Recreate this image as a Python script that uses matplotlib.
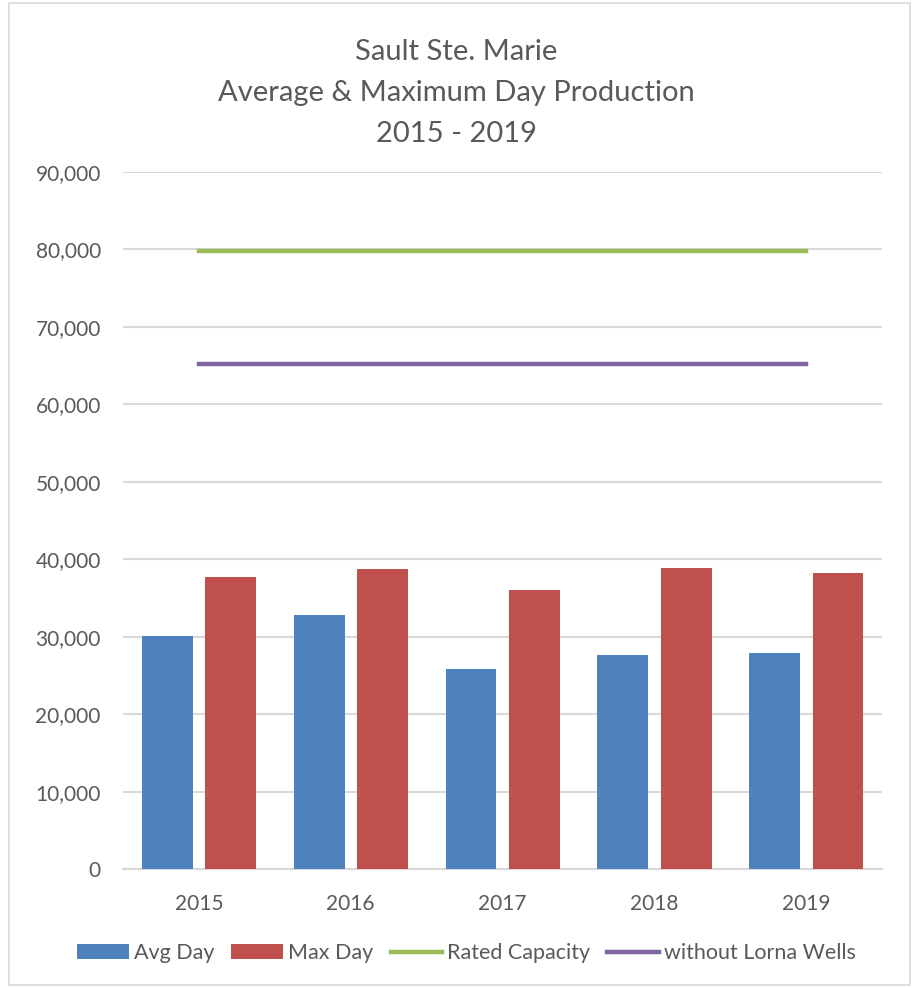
import matplotlib.pyplot as plt
import numpy as np
from matplotlib.patches import Rectangle

plt.rcParams['font.family'] = ['Lato', 'DejaVu Sans']

years = ['2015', '2016', '2017', '2018', '2019']
avg_day = [30100, 32800, 25850, 27650, 27950]
max_day = [37750, 38800, 36000, 38850, 38250]
rated_capacity = [79800, 79800, 79800, 79800, 79800]
without_lorna = [65200, 65200, 65200, 65200, 65200]

grey = '#595959'

fig = plt.figure(figsize=(9.13, 9.88), dpi=100)
ax = fig.add_axes([0.1347, 0.1204, 0.8313, 0.7055])

x = np.arange(len(years))
w = 0.335
b1 = ax.bar(x - 0.207, avg_day, w, color='#4f81bd', label='Avg Day', zorder=3)
b2 = ax.bar(x + 0.21, max_day, w, color='#c0504d', label='Max Day', zorder=3)
l1, = ax.plot(x, rated_capacity, color='#9bbb59', lw=3.2, label='Rated Capacity', zorder=4)
l2, = ax.plot(x, without_lorna, color='#8064a2', lw=3.2, label='without Lorna Wells', zorder=4)

ax.set_xlim(-0.5, 4.5)
ax.set_ylim(0, 90000)
ax.set_yticks(range(0, 90001, 10000))
ax.set_yticklabels([f'{v:,}' for v in range(0, 90001, 10000)])
ax.set_xticks(x)
ax.set_xticklabels(years)
ax.tick_params(axis='both', length=0, labelsize=15, colors=grey)
ax.tick_params(axis='y', pad=16)
ax.tick_params(axis='x', pad=18)
ax.grid(axis='y', color='#d9d9d9', lw=1.5, zorder=0)
for s in ['top', 'right', 'left']:
    ax.spines[s].set_visible(False)
ax.spines['bottom'].set_color('#d9d9d9')
ax.spines['bottom'].set_linewidth(1.5)

fig.text(0.5, 0.906, 'Sault Ste. Marie\nAverage & Maximum Day Production\n2015 - 2019',
         ha='center', va='center', fontsize=21, color=grey, linespacing=1.72)

fig.legend([b1, b2, l1, l2], ['Avg Day', 'Max Day', 'Rated Capacity', 'without Lorna Wells'],
           loc='center', bbox_to_anchor=(0.511, 0.035), ncol=4, frameon=False,
           fontsize=15.5, labelcolor=grey, handlelength=2.4, handleheight=0.7,
           handletextpad=0.23, columnspacing=0.8)

fig.patches.append(Rectangle((0.01, 0.003), 0.987, 0.994, transform=fig.transFigure,
                             fill=False, edgecolor='#d9d9d9', lw=1.2))

fig.savefig('out.png', dpi=100)
